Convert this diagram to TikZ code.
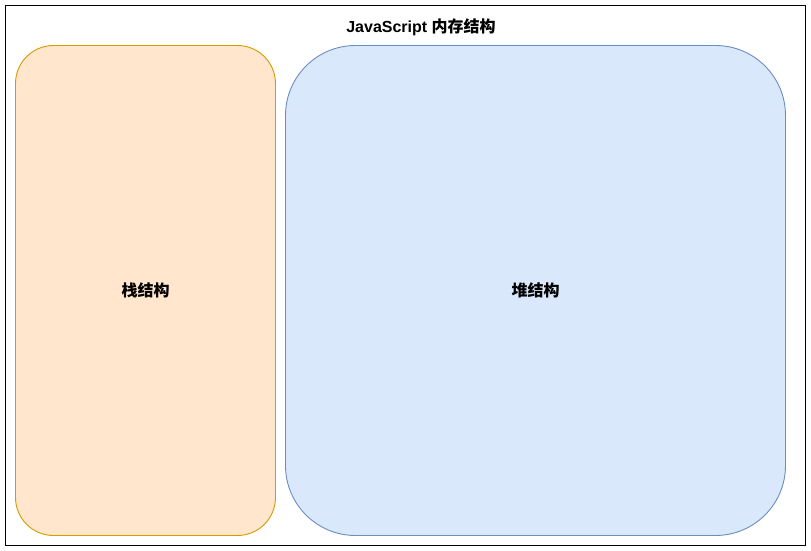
\documentclass[tikz,border=0pt]{standalone}
\usepackage{fontspec}
\setmainfont{Liberation Sans}
\newfontfamily\cjk{Noto Sans CJK SC}
\definecolor{orfill}{HTML}{FFE6CC}
\definecolor{orline}{HTML}{D79B00}
\definecolor{blfill}{HTML}{DAE8FC}
\definecolor{blline}{HTML}{6C8EBF}
\tikzset{
  lbl/.style={font=\fontsize{16}{19}\selectfont\bfseries, text=black, inner sep=0pt},
  stackbox/.style={draw=orline, fill=orfill, line width=0.9pt, rounded corners=38pt},
  heapbox/.style={draw=blline, fill=blfill, line width=0.9pt, rounded corners=70pt},
}
\begin{document}
\begin{tikzpicture}[x=1pt,y=-1pt]
\useasboundingbox (0,0) rectangle (811,551);
\draw[black, line width=1pt] (5.5,5.5) rectangle (805.5,545.5);
\node[lbl] (title) at (421,27) {JavaScript {\cjk\bfseries 内存结构}};
\draw[stackbox] (15.5,45.5) rectangle (275.5,535.5);
\draw[heapbox] (285.5,45.5) rectangle (785.5,535.5);
\node[lbl] (stack) at (145.5,290.5) {\cjk\bfseries 栈结构};
\node[lbl] (heap) at (535.5,290.5) {\cjk\bfseries 堆结构};
\end{tikzpicture}
\end{document}
